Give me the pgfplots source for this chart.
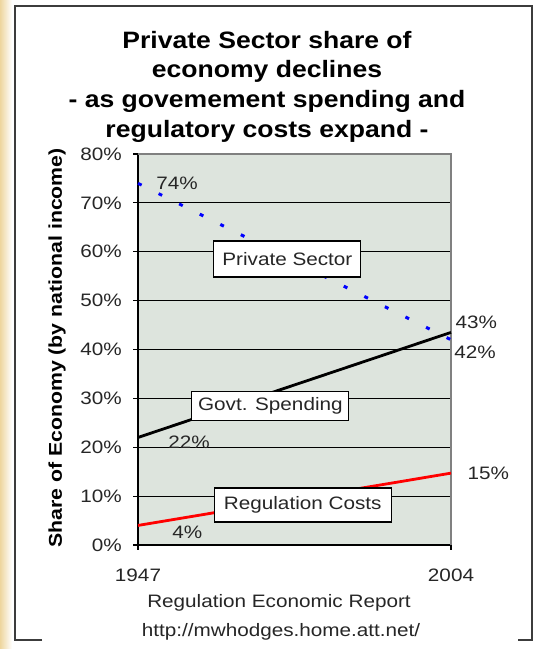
\documentclass[border=0pt]{standalone}
\usepackage{pgfplots}
\pgfplotsset{compat=1.18}
\usepackage{fontspec}
\setmainfont{Liberation Sans}[FakeStretch=1.15]
\newfontfamily\titlefont{Liberation Sans}[FakeStretch=1.12]
\definecolor{plotbg}{RGB}{221,228,221}
\definecolor{beige}{RGB}{238,214,158}
\definecolor{framec}{RGB}{60,60,60}
\newcommand{\lblfont}{\fontsize{18bp}{21bp}\selectfont}
\tikzset{
  lbl/.style={inner sep=0pt, font=\lblfont, text=black!85},
  box/.style={draw=black, fill=white, line width=1.2bp, inner sep=0pt, font=\lblfont, text=black!85},
}
\begin{document}
\begin{tikzpicture}[x=1bp,y=1bp]
\path[use as bounding box, fill=white] (0,0) rectangle (539,649);
\shade[left color=beige, right color=white] (0,0) rectangle (12,649);
\draw[line width=1.5bp, framec] (42,9) -- (15,9) -- (15,643) -- (532,643) -- (532,9) -- (518,9);
% title
\begin{scope}[every node/.style={anchor=base, inner sep=0pt, font=\titlefont\bfseries\fontsize{23.7bp}{28bp}\selectfont}]
\node at (267,600) {Private Sector share of};
\node at (267,571) {economy declines};
\node at (267,541) {- as govemement spending and};
\node at (267,511) {regulatory costs expand -};
\end{scope}
\node[rotate=90, font=\bfseries\fontsize{18.5bp}{22bp}\selectfont, inner sep=0pt] at (57,301) {Share of Economy (by national income)};
\node[lbl] at (279,46) {Regulation Economic Report};
\node[lbl] at (281,17) {http://mwhodges.home.att.net/};
\begin{axis}[
  at={(138bp,104bp)}, anchor=south west,
  width=313bp, height=391bp, scale only axis,
  xmin=1947, xmax=2004, ymin=0, ymax=80,
  axis lines*=left,
  axis line style={black, line width=1.2bp},
  axis background/.style={fill=plotbg},
  xtick={1947,2004}, xticklabels={1947,2004},
  ytick={0,10,20,30,40,50,60,70,80},
  yticklabels={0\%,10\%,20\%,30\%,40\%,50\%,60\%,70\%,80\%},
  tick align=outside, major tick length=5bp,
  tick style={black, line width=1.2bp},
  ymajorgrids, grid style={black, line width=1bp},
  ticklabel style={font=\lblfont, text=black!85},
  yticklabel style={inner sep=0pt, xshift=-11bp},
  xticklabel style={inner sep=0pt, yshift=-19bp},
  clip=false,
]
\draw[gray, line width=1.5bp] (axis cs:1947,80) -- (axis cs:2004,80) -- (axis cs:2004,0);
\addplot[red, line width=2.8bp] coordinates {(1947,4) (2004,14.7)};
\addplot[black, line width=2.8bp] coordinates {(1947,22) (2004,43.5)};
\addplot[blue, line width=3bp, dash pattern=on 4bp off 19bp] coordinates {(1947,74) (2004,42)};
\node[box, minimum width=147bp, minimum height=36bp] at (axis cs:1974.2,58.5) {Private Sector};
\node[box, minimum width=157bp, minimum height=29bp] at (axis cs:1971.1,28.5) {Govt. Spending};
\node[box, minimum width=177bp, minimum height=34bp] at (axis cs:1977.0,8.2) {Regulation Costs};
\node[lbl] at (axis cs:1954.1,74.1) {74\%};
\node[lbl] at (axis cs:1956.3,21.1) {22\%};
\node[lbl] at (axis cs:1956.0,2.66) {4\%};
\node[lbl] at (axis cs:2008.6,45.6) {43\%};
\node[lbl] at (axis cs:2008.4,39.5) {42\%};
\node[lbl] at (axis cs:2010.8,14.7) {15\%};
\end{axis}
\end{tikzpicture}
\end{document}
